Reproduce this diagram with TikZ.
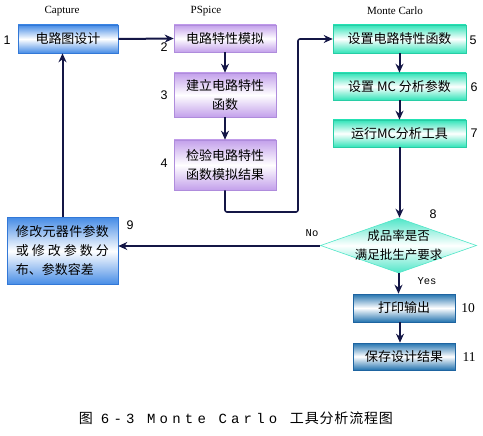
\documentclass[tikz,border=0pt]{standalone}
\usepackage{fontspec}
\usetikzlibrary{shapes.geometric,arrows.meta,calc}
\newfontfamily\cjk{Noto Sans CJK SC}
\newfontfamily\cjkcap[LetterSpace=6]{Noto Sans CJK SC}
\newfontfamily\monocap[LetterSpace=30]{Liberation Mono}
\newfontfamily\numsans{Liberation Sans}
\newfontfamily\numserif{Liberation Serif}
\newfontfamily\lblmono{Liberation Mono}
\definecolor{blueE}{RGB}{70,140,230}
\definecolor{blueB}{RGB}{50,120,215}
\definecolor{purpE}{RGB}{195,160,235}
\definecolor{purpB}{RGB}{175,140,220}
\definecolor{tealE}{RGB}{50,228,185}
\definecolor{tealB}{RGB}{40,205,165}
\definecolor{steelE}{RGB}{35,115,175}
\definecolor{steelB}{RGB}{30,100,160}
\definecolor{diaE}{RGB}{80,230,200}
\definecolor{navy}{RGB}{20,22,70}
\tikzset{
  box/.style={draw=#1B, line width=0.6pt, top color=#1E, bottom color=#1E, middle color=white,
    inner sep=0pt, align=center, font={\cjk\fontsize{13pt}{19pt}\selectfont}},
  conn/.style={draw=navy, line width=2pt, -{Stealth[length=9pt,width=8pt]}},
  numlbl/.style={font={\numsans\fontsize{12.5pt}{14pt}\selectfont}, inner sep=0pt},
  numlblb/.style={font={\numserif\fontsize{13.5pt}{14pt}\selectfont}, inner sep=0pt},
  head/.style={font={\numserif\fontsize{11pt}{12pt}\selectfont}, inner sep=0pt},
  yn/.style={font={\lblmono\fontsize{10.5pt}{12pt}\selectfont}, inner sep=0pt}
}
\begin{document}
\begin{tikzpicture}[x=1pt,y=-1pt]
\useasboundingbox (0,0) rectangle (483,436);
% headers
\node[head] (hcap) at (62,11) {Capture};
\node[head] (hps) at (206,11) {PSpice};
\node[head] (hmc) at (395,11) {Monte Carlo};
% boxes
\node[box=blue, minimum width=100pt, minimum height=28pt] (b1) at (68,39) {电路图设计};
\node[box=purp, minimum width=102pt, minimum height=27pt] (b2) at (225,38.5) {电路特性模拟};
\node[box=purp, minimum width=102pt, minimum height=44pt] (b3) at (225,95) {建立电路特性\\函数};
\node[box=purp, minimum width=102pt, minimum height=50pt] (b4) at (225,165) {检验电路特性\\函数模拟结果};
\node[box=teal, minimum width=133pt, minimum height=28pt] (b5) at (399.5,39) {设置电路特性函数};
\node[box=teal, minimum width=133pt, minimum height=27pt] (b6) at (399.5,86.5) {设置 MC 分析参数};
\node[box=teal, minimum width=133pt, minimum height=27pt] (b7) at (399.5,133.5) {运行MC分析工具};
\node[diamond, draw=diaE, line width=0.6pt, top color=diaE, bottom color=diaE, middle color=white,
  inner sep=0pt, minimum width=156pt, minimum height=55pt] (d8) at (398.5,245.5) {};
\node[align=center, inner sep=0pt, font={\cjk\fontsize{12.5pt}{19pt}\selectfont}] (d8t) at (d8.center)
  {成品率是否\\满足批生产要求};
\node[box=blue, minimum width=111pt, minimum height=67pt, align=left] (b9) at (62.5,251)
  {\makebox[93pt][s]{修\hfill 改\hfill 元\hfill 器\hfill 件\hfill 参\hfill 数}\\
   \makebox[93pt][s]{或\hfill 修\hfill 改\hfill 参\hfill 数\hfill 分}\\
   \makebox[93pt][l]{布、参数容差}};
\node[box=steel, minimum width=102pt, minimum height=28pt] (b10) at (404,308) {打印输出};
\node[box=steel, minimum width=102pt, minimum height=27pt] (b11) at (404,356.5) {保存设计结果};
% numbers
\node[numlbl] (n1) at (7,40) {1};
\node[numlbl] (n2) at (164,47) {2};
\node[numlbl] (n3) at (164,95) {3};
\node[numlbl] (n4) at (164,163) {4};
\node[numlbl] (n5) at (473,40) {5};
\node[numlbl] (n6) at (474,87) {6};
\node[numlbl] (n7) at (474,133) {7};
\node[numlbl] (n8) at (433,214) {8};
\node[numlbl] (n9) at (130,225) {9};
\node[numlblb] (n10) at (468,308) {10};
\node[numlblb] (n11) at (469,357) {11};
\node[yn] (no) at (312,233) {No};
\node[yn] (yes) at (427,281) {Yes};
% connectors
\draw[conn] (b1.east) -- (b2.west);
\draw[conn] (b2.south) -- (b3.north);
\draw[conn] (b3.south) -- (b4.north);
\coordinate (k1) at (298,212);
\draw[conn, line width=1.6pt, rounded corners=2pt] (b4.south) |- (k1) |- (b5.west);
\draw[conn] (b5.south) -- (b6.north);
\draw[conn] (b6.south) -- (b7.north);
\draw[conn] (b7.south) -- (b7.south |- d8.north);
\coordinate (k2) at (320,246);
\draw[conn] (k2) -- (k2 -| b9.east);
\draw[conn] (b9.north) -- (b9.north |- b1.south);
\draw[conn] (d8.south) -- (d8.south |- b10.north);
\coordinate (k3) at (400,322);
\draw[conn] (k3) -- (k3 |- b11.north);
% caption
\node[inner sep=0pt, font={\fontsize{14pt}{16pt}\selectfont}] (cap) at (236,418)
  {\cjkcap 图\ \ \monocap 6-3 Monte Carlo\ \cjkcap 工具分析流程图};
\end{tikzpicture}
\end{document}
